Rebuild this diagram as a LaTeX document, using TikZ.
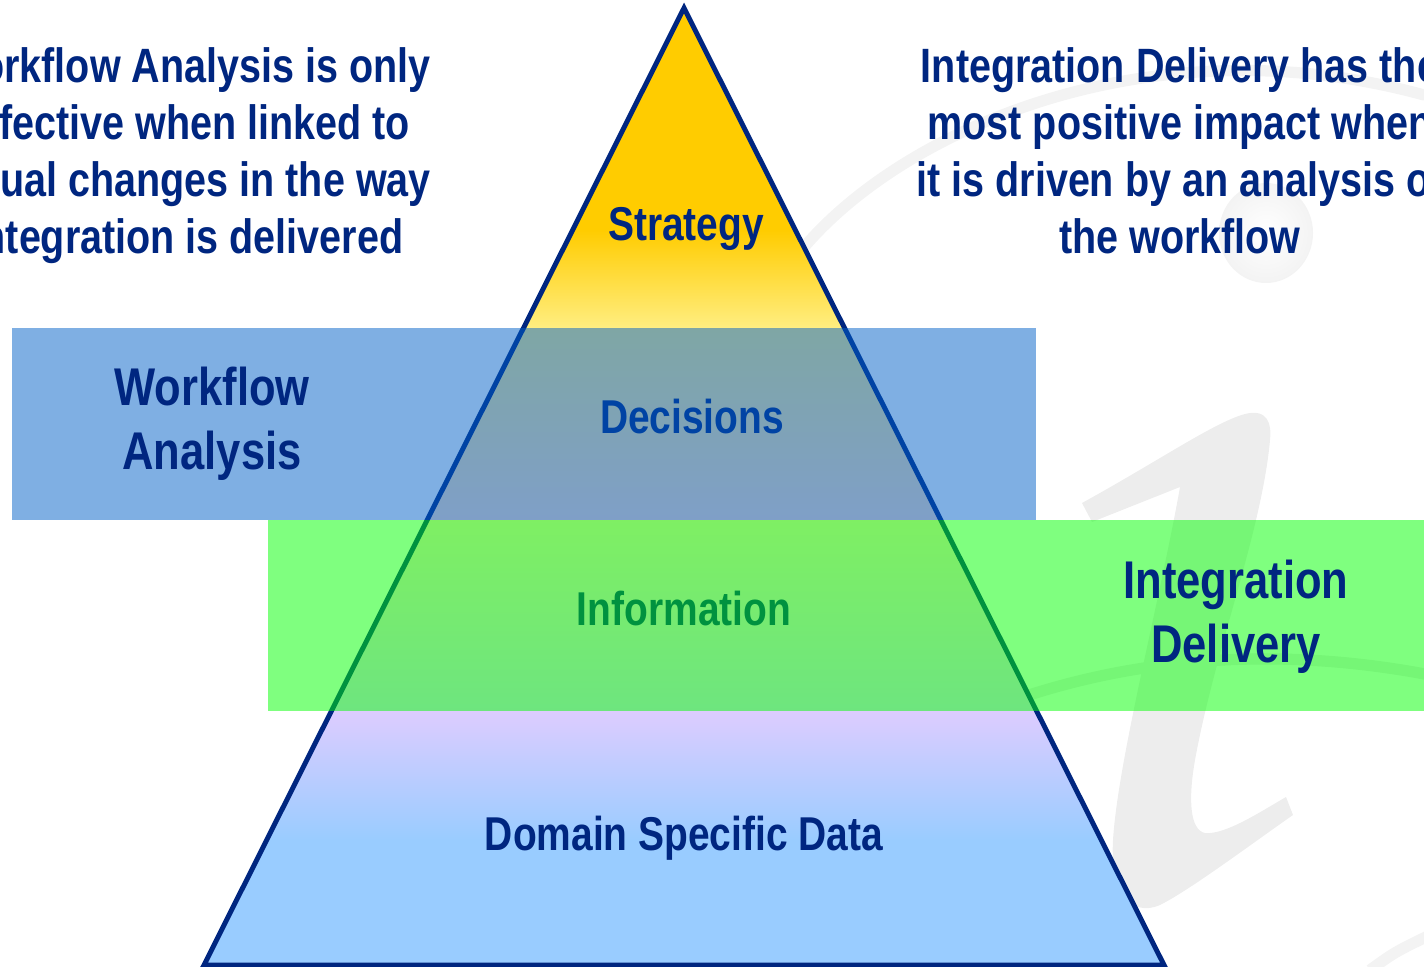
\documentclass[tikz,border=0pt]{standalone}
\usepackage{fontspec}
\newfontfamily\narrowsans{Liberation Sans}[FakeStretch=0.82]
\definecolor{navytext}{RGB}{0, 38, 128}
\definecolor{pyrgold}{RGB}{255, 204, 0}
\definecolor{pyrcream}{RGB}{255, 238, 130}
\definecolor{pyrpeach}{RGB}{255, 224, 200}
\definecolor{pyrlilac}{RGB}{221, 204, 255}
\definecolor{pyrsky}{RGB}{153, 204, 255}
\definecolor{bandblue}{RGB}{0, 96, 200}
\definecolor{bandgreen}{RGB}{0, 255, 0}
\definecolor{markgray}{RGB}{237, 237, 237}
\definecolor{swooshgray}{RGB}{243, 243, 243}

\begin{document}
\begin{tikzpicture}[x=0.01cm, y=-0.01cm,
  tierlabel/.style={font=\narrowsans\bfseries\fontsize{13.5pt}{16pt}\selectfont,
                    text=navytext, anchor=base, inner sep=0pt},
  bandlabel/.style={font=\narrowsans\bfseries\fontsize{15.1pt}{18.2pt}\selectfont,
                    text=navytext, align=center, inner sep=0pt},
  notetext/.style={font=\narrowsans\bfseries\fontsize{13.7pt}{16.2pt}\selectfont,
                   text=navytext, align=center, inner sep=0pt},
  bandfill/.style={opacity=0.5},
]
\useasboundingbox (0,0) rectangle (1424,967);

% Watermark
\draw[swooshgray, line width=3.2pt, line cap=round]
  (800,252) .. controls (900,130) and (1150,20) .. (1424,95);
\shade[inner color=white, outer color=swooshgray] (1266,233) ellipse (47 and 50);
\fill[markgray]
  (1082,503) .. controls (1160,460) and (1215,422) .. (1245,414)
  .. controls (1268,408) and (1272,425) .. (1270,440)
  .. controls (1262,530) and (1215,650) .. (1195,760)
  .. controls (1188,800) and (1190,830) .. (1205,833)
  .. controls (1225,835) and (1260,812) .. (1286,797)
  -- (1293,815)
  .. controls (1250,845) and (1190,890) .. (1160,905)
  .. controls (1130,918) and (1110,890) .. (1113,840)
  .. controls (1118,760) and (1160,600) .. (1180,487)
  -- (1092,522) -- cycle;
\draw[markgray, line width=3.2pt]
  (1000,705) .. controls (1150,650) and (1300,650) .. (1430,675);
\draw[swooshgray, line width=3.2pt]
  (1370,970) .. controls (1395,952) .. (1430,935);

% Pyramid
\coordinate (apex) at (684,8);
\coordinate (baseR) at (1164,965);
\coordinate (baseL) at (204,965);
\begin{scope}
  \clip (apex) -- (baseR) -- (baseL) -- cycle;
  \fill[pyrgold] (0,0) rectangle (1424,231);
  \shade[top color=pyrgold, bottom color=pyrcream] (0,230) rectangle (1424,329);
  \shade[top color=pyrcream, bottom color=pyrpeach] (0,328) rectangle (1424,521);
  \shade[top color=pyrpeach, bottom color=pyrlilac] (0,520) rectangle (1424,712);
  \shade[top color=pyrlilac, bottom color=pyrsky] (0,711) rectangle (1424,841);
  \fill[pyrsky] (0,840) rectangle (1424,967);
\end{scope}
\draw[navytext, line width=1.4pt] (apex) -- (baseR) -- (baseL) -- cycle;

\node[tierlabel] (strategy) at (686,241) {Strategy};
\node[tierlabel] (decisions) at (692,434) {Decisions};
\node[tierlabel] (information) at (684,626) {Information};
\node[tierlabel] (domain) at (684,850) {Domain Specific Data};

% Bands
\fill[bandblue, bandfill] (12,328) rectangle (1036,520);
\fill[bandgreen, bandfill] (268,520) rectangle (1430,711);

\node[bandlabel] (workflow) at (212,424) {Workflow\\Analysis};
\node[bandlabel] (delivery) at (1236,617) {Integration\\Delivery};

% Notes
\node[notetext] (leftnote) at (187,156)
  {Workflow Analysis is only\\effective when linked to\\actual changes in the way\\Integration is delivered};
\node[notetext] (rightnote) at (1180,151)
  {Integration Delivery has the\\most positive impact when\\it is driven by an analysis of\\the workflow};
\end{tikzpicture}
\end{document}
